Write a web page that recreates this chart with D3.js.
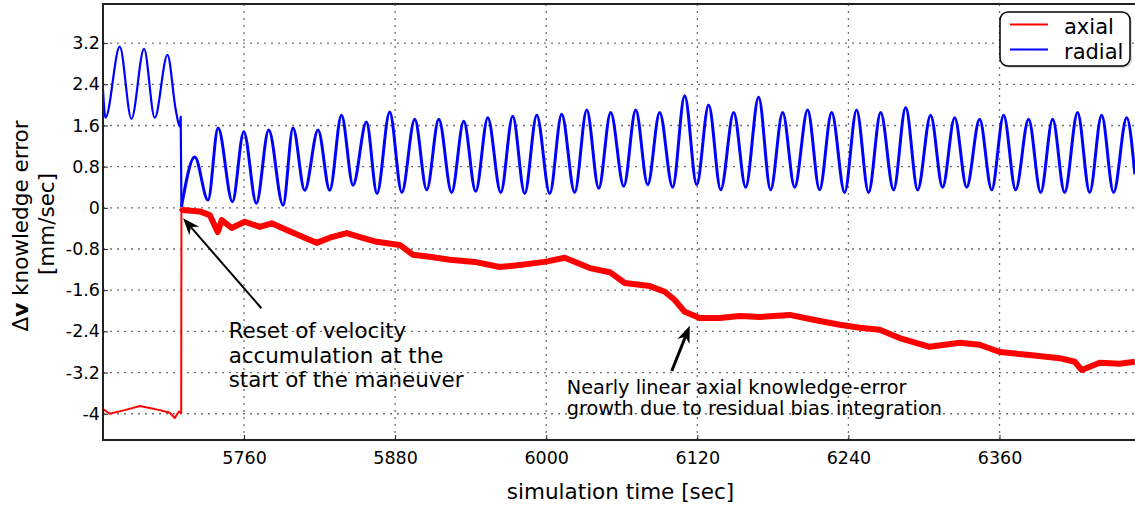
<!DOCTYPE html>
<html>
<head>
<meta charset="utf-8">
<script src="https://cdn.jsdelivr.net/npm/d3@7"></script>
<style>
body { margin: 0; background: #fff; }
text { font-family: "DejaVu Sans", sans-serif; fill: #000; }
</style>
</head>
<body>
<div id="chart"></div>
<script>
// values: time [sec], error [mm/sec]
var radialTime = [5648, 5650, 5661.3, 5670.6, 5680.6, 5689.1, 5699.2, 5705.8, 5708.9, 5709.7, 5710.3,
    5720.9, 5731.4, 5739.4, 5750.8, 5759.8, 5769.8, 5779.6, 5791.0, 5798.9, 5808.2,
    5818.8, 5828.1, 5837.4, 5846.6, 5857.2, 5865.6, 5875.7, 5885.3, 5895.6, 5905.1,
    5914.7, 5924.9, 5934.5, 5944.0, 5953.6, 5963.9, 5973.4, 5982.9, 5992.5, 6002.8,
    6012.3, 6022.6, 6032.2, 6041.7, 6051.2, 6061.6, 6071.1, 6080.6, 6090.1, 6100.4,
    6110.0, 6119.5, 6129.0, 6138.6, 6148.9, 6158.4, 6168.7, 6178.2, 6187.8, 6197.3,
    6207.6, 6217.1, 6226.7, 6237.0, 6246.5, 6256.0, 6265.6, 6275.9, 6285.5, 6295.0,
    6305.3, 6314.8, 6324.4, 6333.9, 6344.2, 6353.8, 6363.3, 6372.8, 6383.1, 6392.7,
    6402.2, 6411.7, 6422.0, 6431.6, 6441.1, 6450.6, 6461.0, 6467.5];
var radialValue = [2.29, 1.75, 3.13, 1.73, 3.09, 1.75, 2.97, 1.90, 1.58, 1.77, 0.02,
    0.99, 0.15, 1.55, 0.12, 1.48, 0.09, 1.51, 0.05, 1.55, 0.34,
    1.51, 0.34, 1.80, 0.44, 1.67, 0.28, 1.86, 0.30, 1.72, 0.35,
    1.72, 0.30, 1.68, 0.32, 1.75, 0.30, 1.78, 0.28, 1.80, 0.28,
    1.82, 0.30, 1.90, 0.38, 1.85, 0.42, 1.90, 0.45, 1.85, 0.40,
    2.18, 0.45, 2.00, 0.35, 1.85, 0.40, 2.15, 0.35, 1.85, 0.40,
    1.90, 0.35, 1.85, 0.30, 1.90, 0.30, 1.85, 0.35, 1.95, 0.35,
    1.80, 0.40, 1.75, 0.40, 1.72, 0.35, 1.80, 0.35, 1.72, 0.30,
    1.72, 0.30, 1.85, 0.30, 1.80, 0.30, 1.75, 0.65];

var axialTime = [5648, 5653.3, 5665.3, 5677.2, 5685.1, 5693.1, 5701.0, 5705.0, 5708.2, 5710.1, 5710.3,
    5711.3, 5724.8, 5732.8, 5739.1, 5742.3, 5750.2, 5760.6, 5772.5, 5782.0, 5793.9,
    5808.2, 5817.7, 5828.1, 5841.6, 5853.5, 5865.4, 5883.7, 5894.0, 5907.5, 5923.4,
    5943.2, 5963.1, 5979.0, 5998.8, 6014.7, 6034.6, 6050.5, 6062.4, 6082.2, 6094.2,
    6102.1, 6110.0, 6121.9, 6137.8, 6153.7, 6169.6, 6193.4, 6213.2, 6233.1, 6249.0,
    6264.8, 6280.7, 6304.5, 6328.4, 6344.2, 6360.2, 6384.0, 6407.8, 6419.7, 6425.3,
    6439.6, 6455.4, 6467.5];
var axialValue = [-3.91, -4.0, -3.93, -3.85, -3.89, -3.93, -3.98, -4.08, -3.96, -3.98, 0.0,
    -0.04, -0.07, -0.14, -0.47, -0.24, -0.39, -0.27, -0.37, -0.30, -0.43,
    -0.58, -0.68, -0.58, -0.49, -0.58, -0.66, -0.72, -0.91, -0.95, -1.01,
    -1.05, -1.15, -1.11, -1.05, -0.97, -1.17, -1.25, -1.46, -1.52, -1.63,
    -1.79, -2.02, -2.14, -2.14, -2.10, -2.12, -2.08, -2.18, -2.27, -2.33,
    -2.37, -2.53, -2.70, -2.62, -2.66, -2.80, -2.86, -2.92, -2.99, -3.15,
    -3.01, -3.03, -2.99];

var maneuverTime = 5710.3;
var xTicks = [5760, 5880, 6000, 6120, 6240, 6360];
var yTicks = [-4, -3.2, -2.4, -1.6, -0.8, 0, 0.8, 1.6, 2.4, 3.2];
var seriesNames = ["axial", "radial"];
var seriesColors = ["#ff0000", "#0000ff"];

// formatting parameters
var width = 1135;
var height = 508;
var margin = { top: 4, bottom: 68, left: 103, right: 0 };
var plotW = width - margin.left - margin.right + 0.5;
var plotH = height - margin.top - margin.bottom;

var svg = d3.select("#chart")
    .append("svg")
    .attr("width", width)
    .attr("height", height)
    .append("g")
    .attr("transform", "translate(" + margin.left + "," + margin.top + ")");

var x = d3.scaleLinear().domain([5648, 6468]).range([0, plotW]);
var y = d3.scaleLinear().domain([-4.51, 3.96]).range([plotH, 0]);

// dotted grid
svg.append("g").selectAll("line")
    .data(xTicks).enter().append("line")
    .attr("x1", function (d) { return x(d); })
    .attr("x2", function (d) { return x(d); })
    .attr("y1", 0).attr("y2", plotH)
    .attr("stroke", "#707070").attr("stroke-width", 1.3)
    .attr("stroke-dasharray", "2,5");
svg.append("g").selectAll("line")
    .data(yTicks).enter().append("line")
    .attr("y1", function (d) { return y(d); })
    .attr("y2", function (d) { return y(d); })
    .attr("x1", 0).attr("x2", plotW)
    .attr("stroke", "#707070").attr("stroke-width", 1.3)
    .attr("stroke-dasharray", "2,5");

// axes with inward ticks
var xAxis = d3.axisBottom(x).tickValues(xTicks).tickSize(-5).tickPadding(11.5)
    .tickFormat(function (d) { return String(d); });
var gx = svg.append("g").attr("transform", "translate(0," + plotH + ")").call(xAxis);
var yAxis = d3.axisLeft(y).tickValues(yTicks).tickSize(-5).tickPadding(3)
    .tickFormat(function (d) { return String(d); });
var gy = svg.append("g").call(yAxis);
[gx, gy].forEach(function (g) {
    g.select(".domain").remove();
    g.selectAll(".tick line").attr("stroke", "#222");
    g.selectAll("text").style("font-size", "17.5px").style("font-family", "DejaVu Sans, sans-serif").attr("fill", "#000");
});

// clip lines to the plot area
svg.append("clipPath").attr("id", "clip")
    .append("rect").attr("width", plotW).attr("height", plotH);

function segment(times, values, pre) {
    var pts = [];
    for (var i = 0; i < times.length; i++) {
        if (pre ? times[i] <= maneuverTime : times[i] >= maneuverTime) pts.push([times[i], values[i]]);
    }
    return pts;
}

var smooth = d3.line().curve(d3.curveMonotoneX)
    .x(function (d) { return x(d[0]); }).y(function (d) { return y(d[1]); });
var straight = d3.line()
    .x(function (d) { return x(d[0]); }).y(function (d) { return y(d[1]); });

var lines = svg.append("g").attr("clip-path", "url(#clip)");
lines.append("path").attr("d", straight(segment(axialTime, axialValue, true)))
    .attr("fill", "none").attr("stroke", seriesColors[0]).attr("stroke-width", 2);
lines.append("path").attr("d", straight(segment(axialTime, axialValue, false)))
    .attr("fill", "none").attr("stroke", seriesColors[0]).attr("stroke-width", 6)
    .attr("stroke-linejoin", "round");
lines.append("path").attr("d", smooth(segment(radialTime, radialValue, true)))
    .attr("fill", "none").attr("stroke", seriesColors[1]).attr("stroke-width", 2.2);
lines.append("path").attr("d", smooth(segment(radialTime, radialValue, false)))
    .attr("fill", "none").attr("stroke", seriesColors[1]).attr("stroke-width", 3)
    .attr("stroke-linejoin", "round");

// frame (right side runs off the image)
svg.append("path")
    .attr("d", "M" + plotW + ",0H0V" + plotH + "H" + plotW)
    .attr("fill", "none").attr("stroke", "#222").attr("stroke-width", 2);

// annotations: arrows and texts in data coordinates
function arrow(t0, v0, t1, v1, w) {
    var x0 = x(t0), y0 = y(v0), x1 = x(t1), y1 = y(v1);
    var a = Math.atan2(y1 - y0, x1 - x0);
    var L = 17, H = 6.5;
    var bx = x1 - L * Math.cos(a), by = y1 - L * Math.sin(a);
    var nx = x1 - 0.7 * L * Math.cos(a), ny = y1 - 0.7 * L * Math.sin(a);
    svg.append("line").attr("x1", x0).attr("y1", y0).attr("x2", nx).attr("y2", ny)
        .attr("stroke", "#000").attr("stroke-width", w);
    svg.append("path")
        .attr("d", "M" + x1 + "," + y1 +
            "L" + (bx - H * Math.sin(a)) + "," + (by + H * Math.cos(a)) +
            "L" + nx + "," + ny +
            "L" + (bx + H * Math.sin(a)) + "," + (by - H * Math.cos(a)) + "Z")
        .attr("fill", "#000");
}
arrow(5773.8, -1.95, 5711.6, -0.2, 2);
arrow(6099.7, -3.17, 6114.0, -2.29, 3);

var note1 = ["Reset of velocity", "accumulation at the", "start of the maneuver"];
svg.append("text").attr("x", x(5747.8)).attr("y", y(-2.53))
    .style("font-size", "21.4px")
    .selectAll("tspan").data(note1).enter().append("tspan")
    .attr("x", x(5747.8)).attr("dy", function (d, i) { return i ? 24.5 : 0; })
    .text(function (d) { return d; });

var note2 = ["Nearly linear axial knowledge-error", "growth due to residual bias integration"];
svg.append("text").attr("x", x(6016.3)).attr("y", y(-3.61))
    .style("font-size", "19.3px")
    .selectAll("tspan").data(note2).enter().append("tspan")
    .attr("x", x(6016.3)).attr("dy", function (d, i) { return i ? 21.5 : 0; })
    .text(function (d) { return d; });

// axis labels
svg.append("text")
    .attr("x", 620.5 - margin.left).attr("y", 499 - margin.top)
    .style("text-anchor", "middle").style("font-size", "21.5px")
    .text("simulation time [sec]");

var yl = svg.append("text")
    .attr("transform", "translate(" + (28 - margin.left) + "," + (226 - margin.top) + ") rotate(-90)")
    .style("text-anchor", "middle").style("font-size", "21.5px");
yl.append("tspan").text("\u0394");
yl.append("tspan").style("font-weight", "bold").text("v");
yl.append("tspan").text(" knowledge error");
svg.append("text")
    .attr("transform", "translate(" + (54 - margin.left) + "," + (224 - margin.top) + ") rotate(-90)")
    .style("text-anchor", "middle").style("font-size", "21.5px")
    .text("[mm/sec]");

// legend
var lg = svg.append("g").attr("transform", "translate(" + (1000 - margin.left) + "," + (12 - margin.top) + ")");
lg.append("rect").attr("x", 2).attr("y", 2).attr("width", 130).attr("height", 54).attr("rx", 8)
    .attr("fill", "#d8d8d8");
lg.append("rect").attr("width", 130).attr("height", 54).attr("rx", 8)
    .attr("fill", "#fff").attr("stroke", "#000").attr("stroke-width", 1.5);
seriesNames.forEach(function (name, i) {
    lg.append("line").attr("x1", 10).attr("x2", 48)
        .attr("y1", 12.5 + i * 25).attr("y2", 12.5 + i * 25)
        .attr("stroke", seriesColors[i]).attr("stroke-width", 2);
    lg.append("text").attr("x", 64).attr("y", 21.5 + i * 25)
        .style("font-size", "21px").text(name);
});
</script>
</body>
</html>
